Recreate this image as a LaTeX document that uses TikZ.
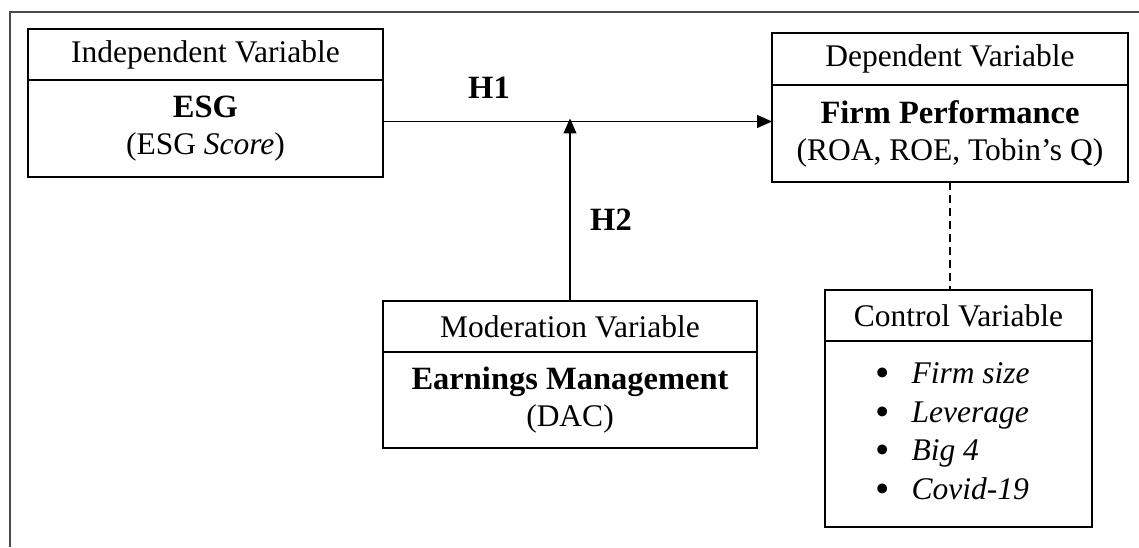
\documentclass[tikz,border=0pt]{standalone}
\usepackage{fontspec}
\setmainfont{Liberation Serif}
\usetikzlibrary{arrows.meta, positioning}

\newcommand{\varfont}{\fontsize{31.5}{37}\selectfont}
\newcommand{\keyfont}{\fontsize{32.5}{37}\selectfont\bfseries}
\newcommand{\listdot}{\smash{\raisebox{-3pt}{\scalebox{1.3}{\textbullet}}}}

\begin{document}
\begin{tikzpicture}[
x = 1pt, y = 1pt,
> = {Triangle[length=15pt, width=13pt]}, % arrow head style
node distance = 0pt, % header and body share a border
]
\tikzset{
  boxpart/.style = {draw = black, line width = 2.8pt, outer sep = 0pt,
    inner sep = 0pt, align = center, font = \varfont},
  head/.style = {boxpart, minimum height = 51pt},
  body/.style = {boxpart},
  hyp/.style = {font = \keyfont},
  link/.style = {line width = 1.3pt}
}
\useasboundingbox (0,0) rectangle (1139,547);
% open frame, left and top only
\draw[gray!60!black, line width=2pt] (10,0) -- (10,535) -- (1139,535);

% independent variable
\node[head, minimum width=355pt] (esgh) at (205.5,492.5) {Independent Variable};
\node[body, minimum width=355pt, minimum height=97pt] (esgb) [below=of esgh]
  {{\keyfont ESG}\\(ESG \textit{Score})};

% dependent variable
\node[head, minimum width=356pt, minimum height=52pt] (perfh) at (950,488) {Dependent Variable};
\node[body, minimum width=356pt, minimum height=97pt] (perfb) [below=of perfh]
  {{\keyfont Firm Performance}\\(ROA, ROE, Tobin's Q)};

% moderating variable
\node[head, minimum width=374pt] (modh) at (570,220.5) {Moderation Variable};
\node[body, minimum width=374pt, minimum height=96pt] (modb) [below=of modh]
  {{\keyfont Earnings Management}\\(DAC)};

% control variables
\node[head, minimum width=267pt] (ctrlh) at (958.5,231.5) {Control Variable};
\node[body, minimum width=267pt, minimum height=186pt] (ctrlb) [below=of ctrlh]
  {\def\arraystretch{1.04}%
   \begin{tabular}{@{}c@{\hspace{22pt}}l@{\hspace{12pt}}}
   \listdot & \textit{Firm size}\\
   \listdot & \textit{Leverage}\\
   \listdot & \textit{Big 4}\\
   \listdot & \textit{Covid-19}
   \end{tabular}};

% hypotheses
\coordinate (h1) at ([yshift=7pt]esgb.east);
\draw[link, ->] (h1) -- (h1 -| perfb.west);
\draw[link, ->, shorten >=-3pt] (modh.north) -- (modh.north |- h1);
\node[hyp] (h1lab) at (489,459) {H1};
\node[hyp] (h2lab) at (611,327) {H2};

\draw[link, dash pattern=on 8pt off 5pt] (perfb.south) -- (perfb.south |- ctrlh.north);
\end{tikzpicture}
\end{document}
